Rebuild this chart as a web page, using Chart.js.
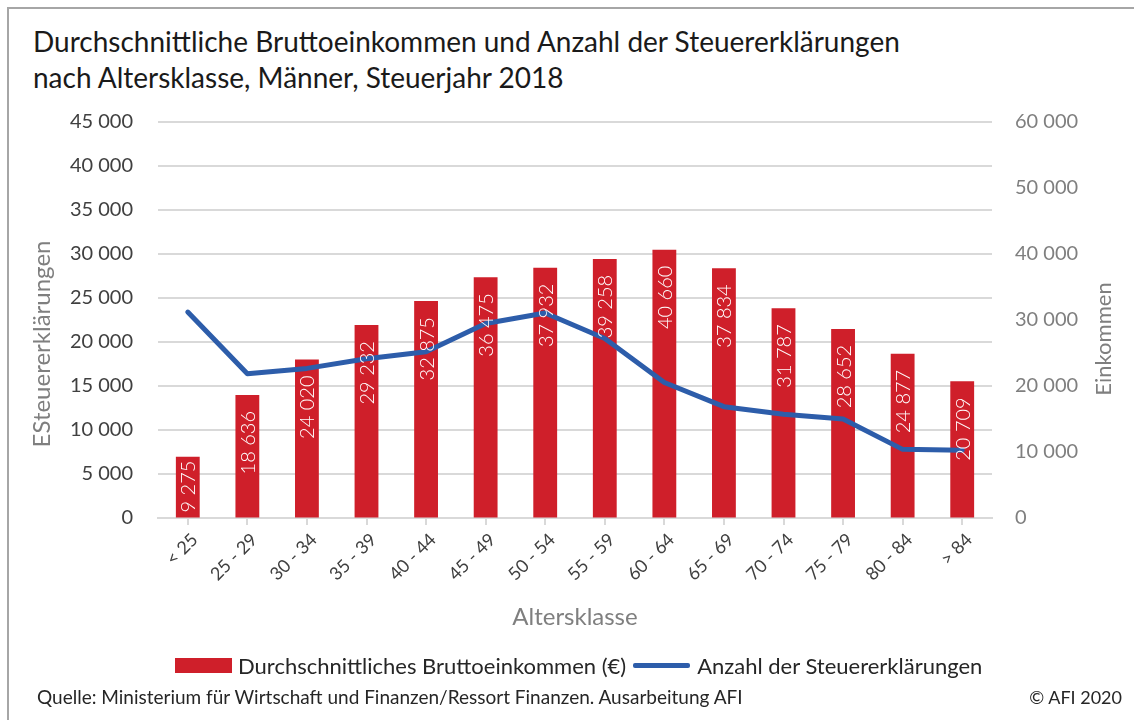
<!DOCTYPE html>
<html lang="de">
<head>
<meta charset="utf-8">
<title>Bruttoeinkommen und Steuererklärungen nach Altersklasse</title>
<script src="https://cdn.jsdelivr.net/npm/chart.js@4/dist/chart.umd.min.js"></script>
<style>
  html, body { margin: 0; padding: 0; background: #fff; }
  #page { position: relative; width: 1134px; height: 720px; overflow: hidden; font-family: Lato, "Noto Sans", sans-serif; }
  #frame { position: absolute; left: 7px; top: 7px; right: -2px; bottom: -2px; border-top: 2px solid #a6a6a6; border-left: 2px solid #a6a6a6; }
  #title { position: absolute; left: 33px; top: 23px; font-size: 28px; line-height: 36px; color: #1a1a1a; white-space: nowrap; }
  #chart { position: absolute; left: 0; top: 0; }
  #legend { position: absolute; left: 175px; top: 651px; font-size: 22px; color: #262626; white-space: nowrap; display: flex; align-items: center; height: 28px; }
  #legend .box { display: inline-block; width: 57px; height: 15px; margin-right: 6px; }
  #legend .ln { display: inline-block; width: 57px; height: 5px; border-radius: 2px; margin: 0 7px 0 7px; }
  #source { position: absolute; left: 37px; top: 685px; font-size: 19px; color: #262626; white-space: nowrap; }
  #copy { position: absolute; right: 12px; top: 686px; font-size: 18px; color: #262626; }
</style>
</head>
<body>
<div id="page">
  <div id="frame"></div>
  <div id="title">Durchschnittliche Bruttoeinkommen und Anzahl der Steuererklärungen<br>nach Altersklasse, Männer, Steuerjahr 2018</div>
  <canvas id="chart" width="1134" height="720"></canvas>
  <div id="legend"></div>
  <div id="source">Quelle: Ministerium für Wirtschaft und Finanzen/Ressort Finanzen. Ausarbeitung AFI</div>
  <div id="copy">© AFI 2020</div>
</div>
<script>
const ageGroups = ['< 25', '25 - 29', '30 - 34', '35 - 39', '40 - 44', '45 - 49', '50 - 54',
  '55 - 59', '60 - 64', '65 - 69', '70 - 74', '75 - 79', '80 - 84', '> 84'];
const income = [9275, 18636, 24020, 29232, 32875, 36475, 37932, 39258, 40660, 37834, 31787, 28652, 24877, 20709];
const returns = [23400, 16400, 17000, 18100, 18900, 22100, 23300, 20400, 15400, 12650, 11800, 11250, 7800, 7700];
const countTicks = [0, 5000, 10000, 15000, 20000, 25000, 30000, 35000, 40000, 45000];
const incomeTicks = [0, 10000, 20000, 30000, 40000, 50000, 60000];

const incomeLabel = 'Durchschnittliches Bruttoeinkommen (€)';
const returnsLabel = 'Anzahl der Steuererklärungen';
const RED = '#cf1f2a';
const BLUE = '#2d5daa';
const FONT = 'Lato, "Noto Sans", sans-serif';

function fmt(v) {
  return String(v).replace(/\B(?=(\d{3})+(?!\d))/g, ' ');
}

// legend (html)
document.getElementById('legend').innerHTML =
  `<span class="box" style="background:${RED}"></span>${incomeLabel}` +
  `<span class="ln" style="background:${BLUE}"></span>${returnsLabel}`;

// white rotated value labels inside the bars
const barLabels = {
  id: 'barLabels',
  afterDatasetsDraw(chart) {
    const meta = chart.getDatasetMeta(1);
    const ctx = chart.ctx;
    ctx.save();
    ctx.font = '300 20px ' + FONT;
    ctx.fillStyle = '#ffffff';
    ctx.textAlign = 'right';
    ctx.textBaseline = 'middle';
    meta.data.forEach((bar, i) => {
      const txt = fmt(income[i]);
      const w = ctx.measureText(txt).width;
      const top = Math.min(bar.y + 16, bar.base - 5 - w);
      ctx.save();
      ctx.translate(bar.x + 1, top);
      ctx.rotate(-Math.PI / 2);
      ctx.fillText(txt, 0, 0);
      ctx.restore();
    });
    ctx.restore();
  }
};

// axis titles
const axisTitles = {
  id: 'axisTitles',
  afterDraw(chart) {
    const ctx = chart.ctx;
    const area = chart.chartArea;
    ctx.save();
    ctx.fillStyle = '#7f7f7f';
    ctx.textAlign = 'center';
    ctx.textBaseline = 'middle';
    ctx.font = '24px ' + FONT;
    ctx.fillText('Altersklasse', (area.left + area.right) / 2, 617);
    [['ESteuererklärungen', 42, 344, 24], ['Einkommen', 1104, 339, 22]].forEach(([t, x, y, size]) => {
      ctx.save();
      ctx.font = size + 'px ' + FONT;
      ctx.translate(x, y);
      ctx.rotate(-Math.PI / 2);
      ctx.fillText(t, 0, 0);
      ctx.restore();
    });
    ctx.restore();
  }
};

new Chart(document.getElementById('chart'), {
  type: 'bar',
  data: {
    labels: ageGroups,
    datasets: [
      {
        type: 'line',
        label: returnsLabel,
        data: returns,
        yAxisID: 'yCount',
        borderColor: BLUE,
        backgroundColor: BLUE,
        borderWidth: 5,
        pointRadius: 0,
        tension: 0,
        borderJoinStyle: 'round',
        borderCapStyle: 'round',
        order: 0
      },
      {
        type: 'bar',
        label: incomeLabel,
        data: income,
        yAxisID: 'yIncome',
        backgroundColor: RED,
        barPercentage: 0.5,
        categoryPercentage: 0.8,
        order: 1
      }
    ]
  },
  options: {
    responsive: false,
    animation: false,
    layout: { padding: { left: 29, right: 0, top: 122, bottom: 102 } },
    plugins: {
      legend: { display: false },
      title: { display: false },
      tooltip: { enabled: false }
    },
    scales: {
      x: {
        offset: true,
        grid: { offset: false, drawOnChartArea: false, drawTicks: true, tickLength: 7, color: '#d9d9d9', lineWidth: 2 },
        border: { color: '#d9d9d9', width: 2 },
        ticks: { minRotation: 45, maxRotation: 45, autoSkip: false, padding: 4, labelOffset: 7, color: '#404040', font: { family: FONT, size: 18 } },
        afterFit(scale) { scale.height = 100; }
      },
      yCount: {
        position: 'left',
        min: 0,
        max: 45000,
        afterBuildTicks(scale) { scale.ticks = countTicks.map(v => ({ value: v })); },
        ticks: { padding: 25, color: '#404040', font: { family: FONT, size: 20 }, callback: v => fmt(v) },
        grid: { color: '#d9d9d9', lineWidth: 2, drawTicks: false },
        border: { display: false },
        afterFit(scale) { scale.width = 129; }
      },
      yIncome: {
        position: 'right',
        min: 0,
        max: 60000,
        afterBuildTicks(scale) { scale.ticks = incomeTicks.map(v => ({ value: v })); },
        ticks: { padding: 23, color: '#7f7f7f', font: { family: FONT, size: 20 }, callback: v => fmt(v) },
        grid: { drawOnChartArea: false, drawTicks: false },
        border: { display: false },
        afterFit(scale) { scale.width = 142; }
      }
    }
  },
  plugins: [barLabels, axisTitles]
});
</script>
</body>
</html>
